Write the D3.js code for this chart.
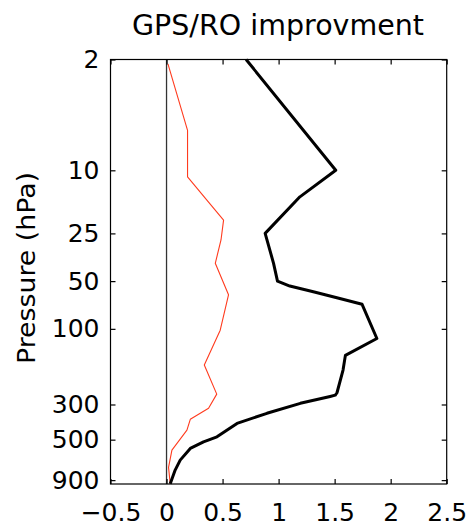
<!DOCTYPE html>
<html><head><meta charset="utf-8">
<script src="https://cdn.jsdelivr.net/npm/d3@7"></script>
<style>
html,body{margin:0;padding:0;background:#fff;}
svg{display:block;font-family:"DejaVu Sans",sans-serif;}
</style></head>
<body>
<svg id="chart" width="470" height="529"></svg>
<script>
// ---- data ----
const titleText = "GPS/RO improvment";
const yLabelText = "Pressure (hPa)";
const xTicks = [-0.5, 0, 0.5, 1, 1.5, 2, 2.5];
const yTicks = [2, 10, 25, 50, 100, 300, 500, 900];
const xDomain = [-0.5, 2.5];
const pDomain = [2, 952];

// black (thick) profile: pressure (hPa), value
const blackP = [2, 10, 14.7, 25, 38.6, 50, 53.7, 58.3, 63.7, 70, 115, 147, 182, 253, 262, 267, 295, 341, 395, 480, 516, 568, 673, 778, 950];
const blackV = [0.71, 1.51, 1.19, 0.88, 0.955, 0.99, 1.10, 1.31, 1.52, 1.745, 1.877, 1.596, 1.575, 1.521, 1.506, 1.46, 1.194, 0.896, 0.629, 0.45, 0.33, 0.212, 0.122, 0.077, 0.033];

// red (thin) profile: pressure (hPa), value
const redP = [2.13, 5.6, 11, 15.4, 20.6, 27.5, 38.6, 61, 102, 169, 258, 317, 372, 435, 582, 748, 950];
const redV = [0.0125, 0.1875, 0.1875, 0.36, 0.509, 0.486, 0.435, 0.553, 0.479, 0.337, 0.448, 0.375, 0.212, 0.182, 0.048, 0.018, 0.033];

// ---- layout ----
const L = 110.5, R = 446.7, T = 59.5, B = 484;
const svg = d3.select("#chart");

const x = d3.scaleLinear().domain(xDomain).range([L, R]);
const y = d3.scaleLog().domain(pDomain).range([T, B]);

// zero line
svg.append("line")
  .attr("x1", x(0)).attr("x2", x(0)).attr("y1", T).attr("y2", B)
  .attr("stroke", "#333").attr("stroke-width", 1.3);

const line = d3.line().x(d => x(d[1])).y(d => y(d[0]));

svg.append("path")
  .datum(redP.map((p, i) => [p, redV[i]]))
  .attr("d", line).attr("fill", "none")
  .attr("stroke", "#ff3b1e").attr("stroke-width", 1.1)
  .attr("stroke-linejoin", "round");

svg.append("path")
  .datum(blackP.map((p, i) => [p, blackV[i]]))
  .attr("d", line).attr("fill", "none")
  .attr("stroke", "#000").attr("stroke-width", 3)
  .attr("stroke-linejoin", "round");

// axes box
svg.append("rect")
  .attr("x", L).attr("y", T).attr("width", R - L).attr("height", B - T)
  .attr("fill", "none").attr("stroke", "#000").attr("stroke-width", 1.2);

const fs = 25;
function styleAxis(g, labels) {
  g.select(".domain").remove();
  g.selectAll(".tick line").attr("stroke", "#000").attr("stroke-width", 1.2);
  if (labels) {
    g.selectAll(".tick text").attr("font-size", fs).attr("fill", "#000")
      .attr("font-family", "DejaVu Sans, sans-serif");
  } else {
    g.selectAll(".tick text").remove();
  }
}

svg.append("g").attr("transform", `translate(0,${B})`)
  .call(d3.axisBottom(x).tickValues(xTicks).tickSizeInner(-5).tickSizeOuter(0).tickPadding(19)
    .tickFormat(d => d3.format("")(d).replace("-", "\u2212")))
  .call(g => styleAxis(g, true));
svg.append("g").attr("transform", `translate(0,${T})`)
  .call(d3.axisTop(x).tickValues(xTicks).tickSizeInner(-5).tickSizeOuter(0))
  .call(g => styleAxis(g, false));
svg.append("g").attr("transform", `translate(${L},0)`)
  .call(d3.axisLeft(y).tickValues(yTicks).tickSizeInner(-5).tickSizeOuter(0).tickPadding(11)
    .tickFormat(d3.format("")))
  .call(g => styleAxis(g, true));
svg.append("g").attr("transform", `translate(${R},0)`)
  .call(d3.axisRight(y).tickValues(yTicks).tickSizeInner(-5).tickSizeOuter(0))
  .call(g => styleAxis(g, false));

// title
svg.append("text")
  .attr("x", 278).attr("y", 35)
  .attr("text-anchor", "middle").attr("font-size", 29)
  .attr("textLength", 292).attr("lengthAdjust", "spacingAndGlyphs")
  .text(titleText);

// y label
svg.append("text")
  .attr("transform", "translate(35,268) rotate(-90)")
  .attr("text-anchor", "middle").attr("font-size", 25)
  .attr("textLength", 192).attr("lengthAdjust", "spacingAndGlyphs")
  .text(yLabelText);
</script>
</body></html>
